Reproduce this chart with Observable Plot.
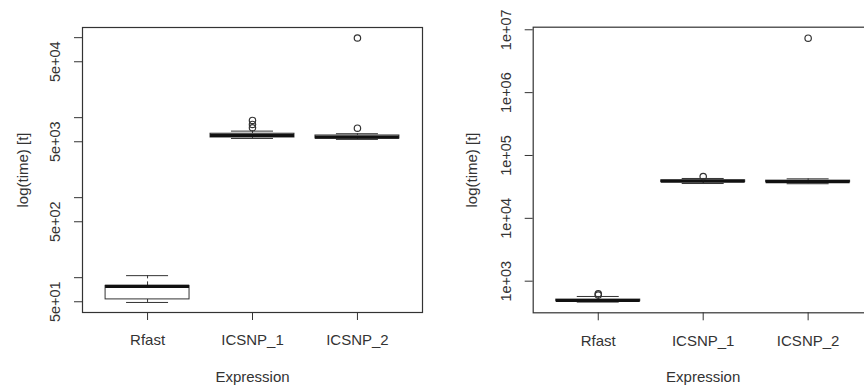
<!DOCTYPE html>
<html>
<head>
<meta charset="utf-8">
<script src="https://cdn.jsdelivr.net/npm/d3@7"></script>
<script src="https://cdn.jsdelivr.net/npm/@observablehq/plot@0.6"></script>
<style>
  html, body { margin: 0; padding: 0; background: white; width: 864px; height: 388px; overflow: hidden; }
  #wrap { display: flex; flex-direction: row; width: 864px; height: 388px; }
  .panel { width: 432px; height: 388px; overflow: hidden; }
</style>
</head>
<body>
<div id="wrap"><div class="panel" id="left"></div><div class="panel" id="right"></div></div>
<script>
// ---- Data ----
const categories = ["Rfast", "ICSNP_1", "ICSNP_2"];

// Left panel (times)
const leftLowerWhisker = [49, 5500, 5350];
const leftQ1 = [53.5, 5650, 5480];
const leftMedian = [78, 5995, 5710];
const leftQ3 = [79, 6300, 5990];
const leftUpperWhisker = [106, 6790, 6300];
const leftOutlierCats = ["ICSNP_1", "ICSNP_1", "ICSNP_1", "ICSNP_2", "ICSNP_2"];
const leftOutlierValues = [9230, 8230, 7480, 7390, 99000];
const leftTickValues = [50, 100, 500, 1000, 5000, 10000, 50000, 100000];
const leftTickLabels = ["5e+01", "", "5e+02", "", "5e+03", "", "5e+04", ""];
const leftDomain = [36.7, 134000];

// Right panel (times)
const rightLowerWhisker = [465, 35800, 35500];
const rightQ1 = [480, 37800, 37500];
const rightMedian = [493, 38990, 38500];
const rightQ3 = [510, 40200, 39800];
const rightUpperWhisker = [571, 43050, 42500];
const rightOutlierCats = ["Rfast", "Rfast", "ICSNP_1", "ICSNP_2"];
const rightOutlierValues = [631, 600, 46300, 7350000];
const rightTickValues = [1000, 10000, 100000, 1000000, 10000000];
const rightTickLabels = ["1e+03", "1e+04", "1e+05", "1e+06", "1e+07"];
const rightDomain = [314, 1.099e7];

const yTitle = "log(time) [t]";
const xTitle = "Expression";

const ink = "#333";

function panel({lo, q1, med, q3, hi, outCats, outVals, tickValues, tickLabels, domain,
                marginLeft, marginRight, marginTop, marginBottom, yTitleDx}) {
  const boxes = categories.map((c, i) => ({
    pos: i + 1, lo: lo[i], q1: q1[i], med: med[i], q3: q3[i], hi: hi[i]
  }));
  const outliers = outCats.map((c, i) => ({pos: categories.indexOf(c) + 1, v: outVals[i]}));
  const yTicks = tickValues.map((v, i) => ({v, label: tickLabels[i]}));
  const xTicks = categories.map((c, i) => ({pos: i + 1, label: c}));
  const half = 0.4, staple = 0.2;
  return Plot.plot({
    width: 432,
    height: 388,
    marginLeft, marginRight, marginTop, marginBottom,
    style: {fontFamily: "'Liberation Sans', Arial, sans-serif", fontSize: "15px", background: "white", color: ink},
    x: {type: "linear", domain: [0.38, 3.62], axis: null},
    y: {type: "log", domain, axis: null},
    marks: [
      // whiskers (dashed)
      Plot.ruleX(boxes, {x: "pos", y1: "q3", y2: "hi", stroke: ink, strokeWidth: 1, strokeDasharray: "4,3"}),
      Plot.ruleX(boxes, {x: "pos", y1: "lo", y2: "q1", stroke: ink, strokeWidth: 1, strokeDasharray: "4,3"}),
      // staples
      Plot.ruleY(boxes, {y: "hi", x1: d => d.pos - staple, x2: d => d.pos + staple, stroke: ink, strokeWidth: 1}),
      Plot.ruleY(boxes, {y: "lo", x1: d => d.pos - staple, x2: d => d.pos + staple, stroke: ink, strokeWidth: 1}),
      // boxes
      Plot.rect(boxes, {x1: d => d.pos - half, x2: d => d.pos + half, y1: "q1", y2: "q3", fill: "white", stroke: ink, strokeWidth: 1}),
      // medians
      Plot.ruleY(boxes, {y: "med", x1: d => d.pos - half, x2: d => d.pos + half, stroke: "#111", strokeWidth: 3.2}),
      // outliers
      Plot.dot(outliers, {x: "pos", y: "v", r: 3.2, stroke: ink, fill: "none", strokeWidth: 1.2}),
      // axes ticks
      Plot.axisY(yTicks.map(d => d.v), {tickSize: 8, tickFormat: () => "", label: null, stroke: ink}),
      Plot.axisX(xTicks.map(d => d.pos), {tickSize: 8, tickFormat: () => "", label: null, stroke: ink}),
      // y tick labels (rotated, parallel to axis)
      Plot.text(yTicks, {y: "v", text: "label", frameAnchor: "left", dx: -27, rotate: -90,
        textAnchor: "middle", lineAnchor: "middle", fontSize: 14.5, fill: ink}),
      // x tick labels
      Plot.text(xTicks, {x: "pos", text: "label", frameAnchor: "bottom", dy: 28,
        textAnchor: "middle", lineAnchor: "middle", fontSize: 15, fill: ink}),
      // axis titles
      Plot.text([yTitle], {frameAnchor: "left", dx: yTitleDx, rotate: -90, textAnchor: "middle",
        lineAnchor: "middle", fontSize: 15, fill: ink}),
      Plot.text([xTitle], {frameAnchor: "bottom", dy: 64.7, textAnchor: "middle",
        lineAnchor: "middle", fontSize: 15, fill: ink}),
      Plot.frame({stroke: ink, strokeWidth: 1.2})
    ]
  });
}

document.getElementById("left").append(panel({
  lo: leftLowerWhisker, q1: leftQ1, med: leftMedian, q3: leftQ3, hi: leftUpperWhisker,
  outCats: leftOutlierCats, outVals: leftOutlierValues,
  tickValues: leftTickValues, tickLabels: leftTickLabels, domain: leftDomain,
  marginLeft: 82, marginRight: 10, marginTop: 27, marginBottom: 76, yTitleDx: -59.3
}));

document.getElementById("right").append(panel({
  lo: rightLowerWhisker, q1: rightQ1, med: rightMedian, q3: rightQ3, hi: rightUpperWhisker,
  outCats: rightOutlierCats, outVals: rightOutlierValues,
  tickValues: rightTickValues, tickLabels: rightTickLabels, domain: rightDomain,
  marginLeft: 100.7, marginRight: -8.7, marginTop: 26.7, marginBottom: 75.7, yTitleDx: -61.4
}));
</script>
</body>
</html>
